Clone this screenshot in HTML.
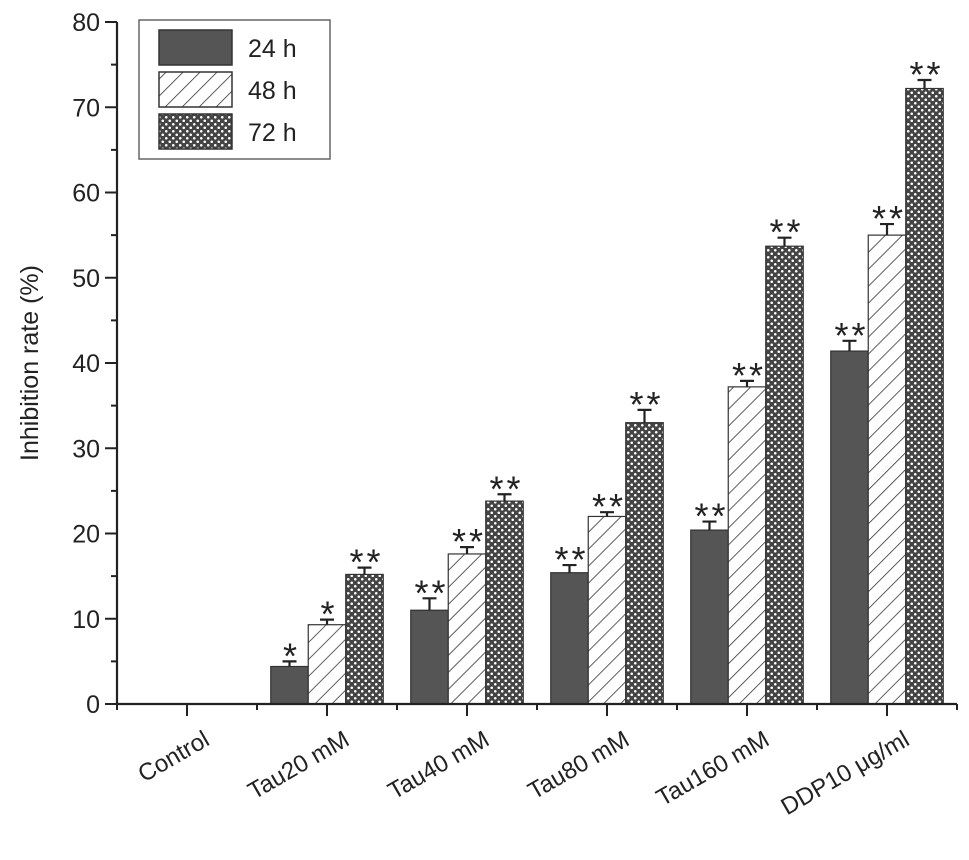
<!DOCTYPE html>
<html><head><meta charset="utf-8"><style>
body{margin:0;background:#fff}
svg text{font-family:"Liberation Sans",Arial,sans-serif;fill:#222}
</style></head><body>
<svg id="chart" width="969" height="855" xmlns="http://www.w3.org/2000/svg">
<defs>
<pattern id="hatch" patternUnits="userSpaceOnUse" width="12" height="12" patternTransform="rotate(45)">
<rect width="12" height="12" fill="#fff"/><line x1="0" y1="0" x2="0" y2="12" stroke="#333" stroke-width="1.6"/>
</pattern>
<pattern id="dots" patternUnits="userSpaceOnUse" width="7" height="7">
<rect width="7" height="7" fill="#444"/><circle cx="1.75" cy="1.75" r="1.3" fill="#fff"/><circle cx="5.25" cy="5.25" r="1.3" fill="#fff"/>
</pattern>
</defs>
<g id="plot"></g>
</svg>
<script>
const categories=["Control","Tau20 mM","Tau40 mM","Tau80 mM","Tau160 mM","DDP10 μg/ml"];
const series=["24 h","48 h","72 h"];
const v24=[0,4.4,11.0,15.4,20.4,41.4];
const v48=[0,9.3,17.6,22.0,37.2,55.0];
const v72=[0,15.2,23.8,33.0,53.7,72.2];
const e24=[0,0.6,1.4,0.9,1.0,1.2];
const e48=[0,0.6,0.8,0.5,0.7,1.3];
const e72=[0,0.8,0.8,1.5,1.0,1.0];
const s24=["","*","**","**","**","**"];
const s48=["","*","**","**","**","**"];
const s72=["","**","**","**","**","**"];
const yTicks=[0,10,20,30,40,50,60,70,80];

const NS="http://www.w3.org/2000/svg";
const g=document.getElementById('plot');
const X0=117,Y0=704,YTOP=22,XEND=957;
const y=v=>Y0-(v/80)*(Y0-YTOP);
const xc=i=>187+i*140;
const BW=37.5;
function el(t,a,p){const e=document.createElementNS(NS,t);for(const k in a)e.setAttribute(k,a[k]);(p||g).appendChild(e);return e;}

const vals=[v24,v48,v72],errs=[e24,e48,e72],stars=[s24,s48,s72];
const fills=["#555","url(#hatch)","url(#dots)"];
categories.forEach((c,i)=>{
  vals.forEach((arr,s)=>{
    const v=arr[i]; if(v<=0) return;
    const x=xc(i)+(s-1)*BW-BW/2;
    const b=el('rect',{x:x,y:y(v),width:BW,height:Y0-y(v),fill:fills[s],stroke:'#333','stroke-width':1.2});
    
    
    const cx=x+BW/2,top=y(v+errs[s][i]);
    const eb=el('path',{d:`M${cx},${y(v)}V${top}M${cx-7},${top}H${cx+7}`,stroke:'#222','stroke-width':2.2,fill:'none'});
    
    
    const st=el('text',{x:cx+2,y:top+7,'text-anchor':'middle','font-size':36,'letter-spacing':3});
    st.textContent=stars[s][i];
    
    
  });
  const t=el('text',{x:0,y:0,'text-anchor':'end','font-size':24,transform:`translate(${xc(i)+24},${Y0+40}) rotate(-30)`});
  t.textContent=c;
  
  
});
// axes
const ax=el('path',{d:`M${X0},${YTOP}V${Y0}H${XEND}`,stroke:'#222','stroke-width':2.2,fill:'none'});


categories.forEach((c,i)=>{
  el('line',{x1:xc(i),x2:xc(i),y1:Y0,y2:Y0+12,stroke:'#222','stroke-width':2});
  el('line',{x1:xc(i)+70,x2:xc(i)+70,y1:Y0,y2:Y0+6,stroke:'#222','stroke-width':2});
});
el('line',{x1:X0,x2:X0,y1:Y0,y2:Y0+6,stroke:'#222','stroke-width':2});
yTicks.forEach(v=>{
  el('line',{x1:X0-12,x2:X0,y1:y(v),y2:y(v),stroke:'#222','stroke-width':2});
  if(v<80) el('line',{x1:X0-6,x2:X0,y1:y(v+5),y2:y(v+5),stroke:'#222','stroke-width':2});
  const t=el('text',{x:X0-17,y:y(v)+9,'text-anchor':'end','font-size':25});
  t.textContent=v;
  
  
});
const yt=el('text',{x:0,y:0,'text-anchor':'middle','font-size':25,transform:'translate(38,363) rotate(-90)'});
yt.textContent='Inhibition rate (%)';


// legend
const lg=el('g',{});


el('rect',{x:139,y:20,width:191,height:139,fill:'#fff',stroke:'#666','stroke-width':1.5},lg);
series.forEach((s,k)=>{
  const sw=el('rect',{x:159,y:30+k*42,width:73,height:35,fill:fills[k],stroke:'#333','stroke-width':1.5},lg);
  
  
  const t=el('text',{x:248,y:57+k*42,'font-size':25},lg);
  t.textContent=s;
  
  
});
</script>
</body></html>
